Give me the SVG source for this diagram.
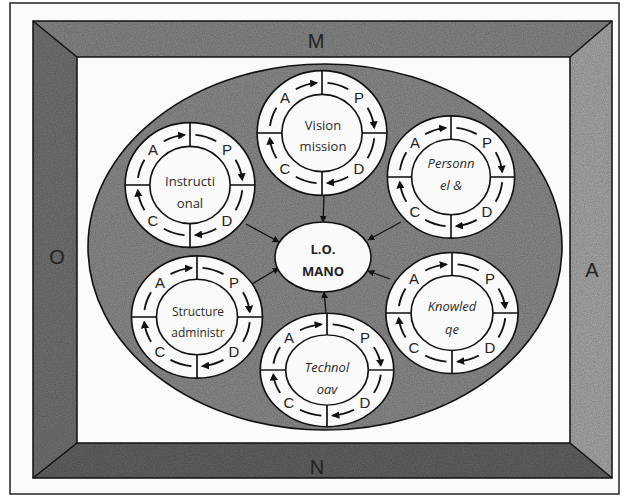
<svg xmlns="http://www.w3.org/2000/svg" xmlns:xlink="http://www.w3.org/1999/xlink" width="625" height="496" viewBox="0 0 625 496">
<style>
.ln{stroke:#111;stroke-width:1.6;fill:none}
.wh{fill:#fafafa;stroke:#111;stroke-width:1.6}
.arc{stroke:#111;stroke-width:1.8;fill:none}
.lt{font-family:"Liberation Sans",Arial,sans-serif;font-size:15px;fill:#222;text-anchor:middle}
.lab{font-family:"Open Sans","Liberation Sans",sans-serif;font-size:13px;fill:#2a2a2a;text-anchor:middle}
.it{font-style:italic}
.big{font-family:"Liberation Sans",Arial,sans-serif;font-size:20px;fill:#222;text-anchor:middle}
.cen{font-family:"Open Sans","Liberation Sans",sans-serif;font-size:13px;font-weight:bold;fill:#222;text-anchor:middle}
.con{stroke:#111;stroke-width:1.3;fill:none;marker-end:url(#ah)}
</style>
<defs>
<marker id="ah" viewBox="0 0 10 10" refX="9" refY="5" markerWidth="7" markerHeight="7" orient="auto" markerUnits="userSpaceOnUse"><path d="M0,0 L10,5 L0,10 z" fill="#111"/></marker>
<marker id="ar" viewBox="0 0 10 10" refX="8" refY="5" markerWidth="8" markerHeight="8" orient="auto" markerUnits="userSpaceOnUse"><path d="M0,0 L10,5 L0,10 z" fill="#111"/></marker>
<filter id="grain" x="0" y="0" width="100%" height="100%">
<feTurbulence type="fractalNoise" baseFrequency="0.9" numOctaves="2" seed="3" result="n"/>
<feColorMatrix in="n" type="matrix" values="0 0 0 0 0  0 0 0 0 0  0 0 0 0 0  0 0 0 0.6 -0.1" result="a"/>
<feComposite in="a" in2="SourceGraphic" operator="in" result="b"/>
<feMerge><feMergeNode in="SourceGraphic"/><feMergeNode in="b"/></feMerge>
</filter>
<g id="ring">
<circle class="wh" r="63"/>
<circle class="wh" r="39"/>
<line class="ln" x1="0" y1="-63" x2="0" y2="-39"/>
<line class="ln" x1="0" y1="39" x2="0" y2="63"/>
<line class="ln" x1="-63" y1="0" x2="-39" y2="0"/>
<line class="ln" x1="39" y1="0" x2="63" y2="0"/>
<path class="arc" d="M-50.5,-7.1 A51,51 0 0 1 -44.2,-25.5"/>
<path class="arc" d="M-25.5,-44.2 A51,51 0 0 1 -5.3,-50.7" marker-end="url(#ar)"/>
<path class="arc" d="M5.3,-50.7 A51,51 0 0 1 25.5,-44.2"/>
<path class="arc" d="M44.2,-25.5 A51,51 0 0 1 50.7,-5.3" marker-end="url(#ar)"/>
<path class="arc" d="M50.7,5.3 A51,51 0 0 1 44.2,25.5"/>
<path class="arc" d="M25.5,44.2 A51,51 0 0 1 5.3,50.7" marker-end="url(#ar)"/>
<path class="arc" d="M-5.3,50.7 A51,51 0 0 1 -25.5,44.2"/>
<path class="arc" d="M-44.2,25.5 A51,51 0 0 1 -50.7,5.3" marker-end="url(#ar)"/>
</g>
</defs>
<rect x="0" y="0" width="625" height="496" fill="#fff"/>
<rect x="10" y="3" width="609" height="491" fill="#fbfbfb" stroke="#222" stroke-width="1.5"/>
<g id="frame" filter="url(#grain)">
<polygon points="33,21 612,21 570,57 77,57" fill="#858585"/>
<polygon points="33,21 77,57 77,443 33,478" fill="#717171"/>
<polygon points="612,21 612,478 570,443 570,57" fill="#a6a6a6"/>
<polygon points="33,478 77,443 570,443 612,478" fill="#626262"/>
</g>
<g fill="none" stroke="#111" stroke-width="1.5">
<rect x="33" y="21" width="579" height="457"/>
<rect x="77" y="57" width="493" height="386"/>
<path d="M33,21 L77,57 M612,21 L570,57 M33,478 L77,443 M612,478 L570,443"/>
</g>
<text class="big" x="316" y="48">M</text>
<text class="big" x="57" y="264">O</text>
<text class="big" x="592" y="277">A</text>
<text class="big" x="317" y="474">N</text>
<g id="org">
<ellipse cx="325" cy="247" rx="237" ry="183" fill="#8a8a8a" filter="url(#grain)"/>
<ellipse cx="325" cy="247" rx="237" ry="183" fill="none" stroke="#111" stroke-width="1.6"/>
</g>
<g id="connectors">
<line class="con" x1="324" y1="196" x2="323" y2="222"/>
<line class="con" x1="246" y1="224" x2="279" y2="242"/>
<line class="con" x1="401" y1="222" x2="368" y2="240"/>
<line class="con" x1="252" y1="284" x2="279" y2="268"/>
<line class="con" x1="390" y1="279" x2="368" y2="271"/>
<line class="con" x1="326" y1="313" x2="324" y2="292"/>
</g>
<g id="vision">
<use xlink:href="#ring" transform="translate(322,133) scale(1.03,0.99)"/>
<text class="lt" x="285" y="103">A</text>
<text class="lt" x="359" y="103">P</text>
<text class="lt" x="359" y="174">D</text>
<text class="lt" x="285" y="174">C</text>
<text class="lab" x="323" y="130">Vision</text>
<text class="lab" x="323" y="151">mission</text>
</g>
<g id="personnel">
<use xlink:href="#ring" transform="translate(451,177) scale(1.01,0.97)"/>
<text class="lt" x="415" y="148">A</text>
<text class="lt" x="487" y="148">P</text>
<text class="lt" x="487" y="217">D</text>
<text class="lt" x="415" y="217">C</text>
<text class="lab it" x="451" y="168">Personn</text>
<text class="lab it" x="451" y="190">el &amp;</text>
</g>
<g id="instructional">
<use xlink:href="#ring" transform="translate(190,185) scale(1.03,0.99)"/>
<text class="lt" x="153" y="155">A</text>
<text class="lt" x="227" y="155">P</text>
<text class="lt" x="227" y="226">D</text>
<text class="lt" x="153" y="226">C</text>
<text class="lab" x="190" y="186">Instructi</text>
<text class="lab" x="190" y="208">onal</text>
</g>
<g id="structure">
<use xlink:href="#ring" transform="translate(197,317) scale(1.04,0.97)"/>
<text class="lt" x="160" y="288">A</text>
<text class="lt" x="234" y="288">P</text>
<text class="lt" x="234" y="357">D</text>
<text class="lt" x="160" y="357">C</text>
<text class="lab" x="198" y="316" style="font-size:12px">Structure</text>
<text class="lab" x="198" y="337" style="font-size:12px">administr</text>
</g>
<g id="knowledge">
<use xlink:href="#ring" transform="translate(452,313) scale(1.05,0.96)"/>
<text class="lt" x="414" y="284">A</text>
<text class="lt" x="490" y="284">P</text>
<text class="lt" x="490" y="353">D</text>
<text class="lt" x="414" y="353">C</text>
<text class="lab it" x="452" y="311">Knowled</text>
<text class="lab it" x="452" y="334">qe</text>
</g>
<g id="technology">
<use xlink:href="#ring" transform="translate(327,370) scale(1.06,0.9)"/>
<text class="lt" x="289" y="343">A</text>
<text class="lt" x="365" y="343">P</text>
<text class="lt" x="365" y="408">D</text>
<text class="lt" x="289" y="408">C</text>
<text class="lab it" x="327" y="372">Technol</text>
<text class="lab it" x="327" y="394">oav</text>
</g>
<g id="center">
<ellipse cx="323" cy="257" rx="48" ry="35" fill="#fafafa" stroke="#111" stroke-width="1.6"/>
<text class="cen" x="323" y="254">L.O.</text>
<text class="cen" x="323" y="276">MANO</text>
</g>
</svg>
